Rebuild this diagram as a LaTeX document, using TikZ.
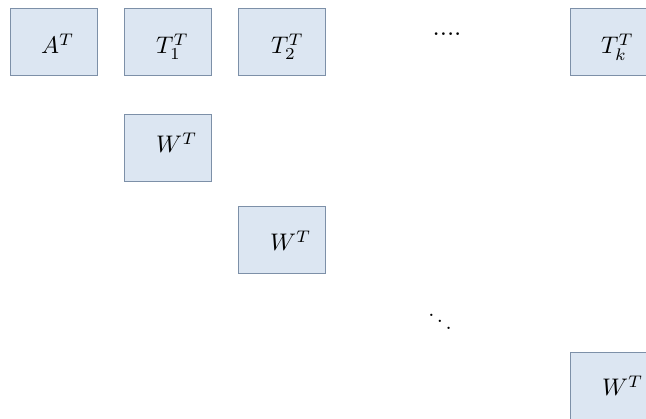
\documentclass[tikz,border=0pt]{standalone}
\usepackage{amsmath}
\usepackage{graphicx}
\definecolor{boxfill}{HTML}{DCE6F2}
\definecolor{boxline}{HTML}{7D90A8}
\begin{document}
\begin{tikzpicture}[x=1pt,y=-1pt,
  mat/.style={draw=boxline, fill=boxfill, line width=1.1pt, minimum width=87pt, minimum height=67pt, inner sep=0pt, anchor=north west},
  lbl/.style={anchor=base west, inner sep=0pt}]
\useasboundingbox (0,0) rectangle (646,419);
\clip (0,0) rectangle (646,419);
% top row: A^T and the T_i^T blocks
\node[mat] (a)  at (10,8) {};
\node[mat] (t1) at (124,8) {};
\node[mat] (t2) at (238,8) {};
\node[mat] (tk) at (570,8) {};
\node[lbl] (la)  at (41,54)  {\scalebox{2.4}{$A^T$}};
\node[lbl] (lt1) at (156,54) {\scalebox{2.4}{$T_1^T$}};
\node[lbl] (lt2) at (271,54) {\scalebox{2.4}{$T_2^T$}};
\node[lbl] (ltk) at (601,54) {\scalebox{2.4}{$T_k^T$}};
\node[anchor=base, inner sep=0pt] (hd) at (447,36) {\scalebox{2.6}{....}};
% diagonal of W^T blocks
\node[mat] (w1) at (124,114) {};
\node[mat] (w2) at (238,206) {};
\node[mat] (w3) at (570,352) {};
\node[lbl] (lw1) at (156,153) {\scalebox{2.4}{$W^T$}};
\node[lbl] (lw2) at (270,251) {\scalebox{2.4}{$W^T$}};
\node[lbl] (lw3) at (602,396) {\scalebox{2.4}{$W^T$}};
\node[inner sep=0pt] (dd) at (440,315) {\scalebox{2.2}{$\ddots$}};
\end{tikzpicture}
\end{document}
